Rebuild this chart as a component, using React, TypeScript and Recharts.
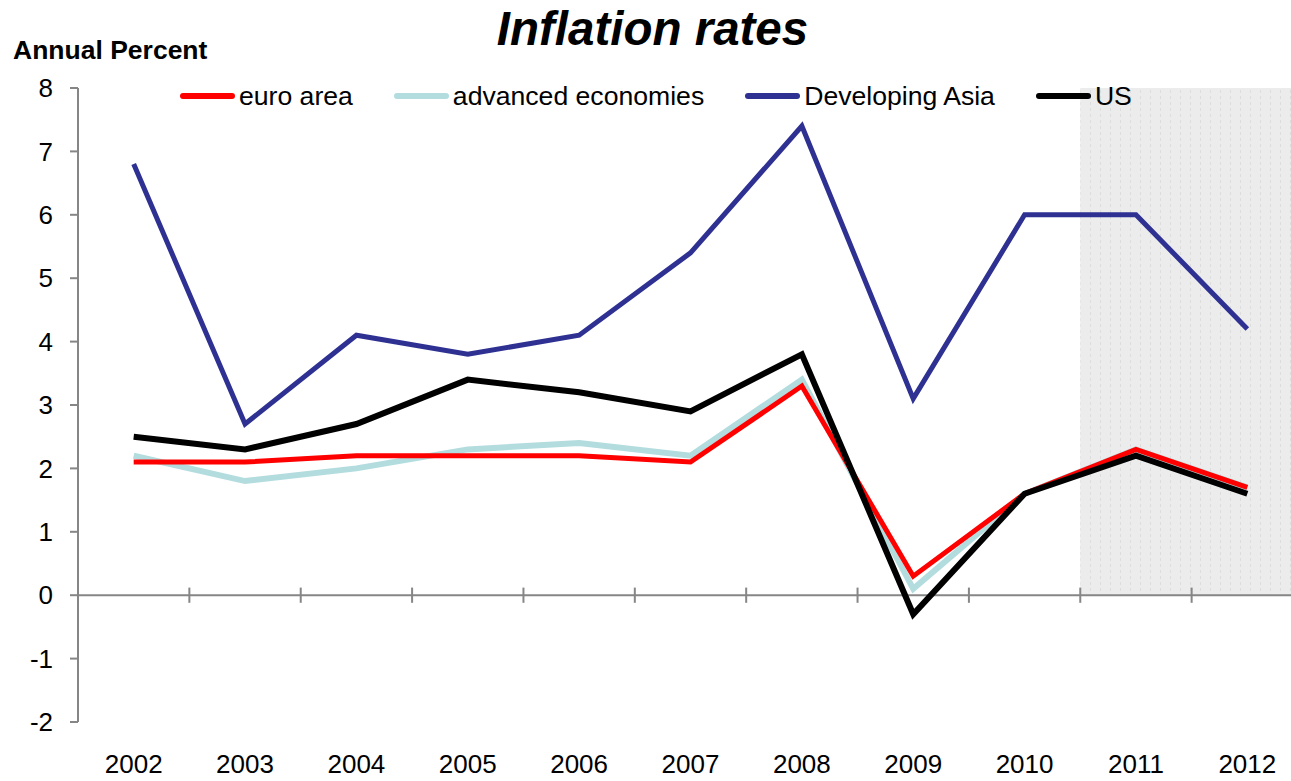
import { LineChart, Line, XAxis, YAxis, ReferenceArea, ReferenceLine } from "recharts";

const years = [2002, 2003, 2004, 2005, 2006, 2007, 2008, 2009, 2010, 2011, 2012];
const euroArea = [2.1, 2.1, 2.2, 2.2, 2.2, 2.1, 3.3, 0.3, 1.6, 2.3, 1.7];
const advancedEconomies = [2.2, 1.8, 2.0, 2.3, 2.4, 2.2, 3.4, 0.1, 1.6, 2.3, 1.7];
const developingAsia = [6.8, 2.7, 4.1, 3.8, 4.1, 5.4, 7.4, 3.1, 6.0, 6.0, 4.2];
const us = [2.5, 2.3, 2.7, 3.4, 3.2, 2.9, 3.8, -0.3, 1.6, 2.2, 1.6];
const yTicks = [-2, -1, 0, 1, 2, 3, 4, 5, 6, 7, 8];
// projection years are shaded
const forecastYears = [2011, 2012];

const FONT = "'Liberation Sans', Arial, sans-serif";
const AXIS = "#868686";

const data = years.map((year, i) => ({
  year,
  euro: euroArea[i],
  adv: advancedEconomies[i],
  asia: developingAsia[i],
  us: us[i],
}));

// category boundaries, where Excel puts its tick marks
const boundaries = years.map((y) => y + 0.5);

const legendItems = [
  { name: "euro area", color: "#FF0000" },
  { name: "advanced economies", color: "#B3DCDF" },
  { name: "Developing Asia", color: "#2E3192" },
  { name: "US", color: "#000000" },
];

function ChartLegend() {
  return (
    <div
      style={{
        position: "absolute",
        left: 180,
        top: 81,
        display: "flex",
        gap: 41,
        fontFamily: FONT,
        fontSize: 26.6,
        lineHeight: "30px",
        color: "#000",
      }}
    >
      {legendItems.map((it) => (
        <div key={it.name} style={{ display: "flex", alignItems: "center" }}>
          <div
            style={{
              width: 55,
              height: 6,
              borderRadius: 3,
              background: it.color,
              marginRight: 4,
            }}
          />
          <span style={{ whiteSpace: "nowrap" }}>{it.name}</span>
        </div>
      ))}
    </div>
  );
}

export default function App() {
  return (
    <div
      style={{
        position: "absolute",
        left: 0,
        top: 0,
        width: 1291,
        height: 781,
        overflow: "hidden",
        background: "#fff",
      }}
    >
      <div
        style={{
          position: "absolute",
          left: 0,
          width: 1305,
          top: 6,
          textAlign: "center",
          fontFamily: FONT,
          fontSize: 47.5,
          fontWeight: "bold",
          fontStyle: "italic",
          lineHeight: "46px",
        }}
      >
        Inflation rates
      </div>
      <div
        style={{
          position: "absolute",
          left: 13,
          top: 37,
          fontFamily: FONT,
          fontSize: 26.5,
          fontWeight: "bold",
          lineHeight: "26px",
        }}
      >
        Annual Percent
      </div>
      <div style={{ position: "absolute", left: 0, top: 0 }}>
        <LineChart
          width={1310}
          height={781}
          data={data}
          margin={{ top: 88, right: 7, left: 0, bottom: 0 }}
        >
          <defs>
            <pattern id="forecast" width="10" height="6" patternUnits="userSpaceOnUse">
              <rect width="10" height="6" fill="#ECECEC" />
              <rect x="0" y="0" width="1" height="3" fill="#DDDDDD" />
            </pattern>
          </defs>
          <XAxis
            type="number"
            dataKey="year"
            domain={[2001.5, 2012.5]}
            ticks={years}
            axisLine={false}
            tickLine={false}
            tickSize={0}
            tickMargin={33}
            height={59}
            tick={{ fill: "#000", fontSize: 26, fontFamily: FONT }}
            interval={0}
          />
          <YAxis
            domain={[-2, 8]}
            ticks={yTicks}
            width={78}
            interval={0}
            axisLine={{ stroke: AXIS, strokeWidth: 2 }}
            tickLine={{ stroke: AXIS, strokeWidth: 2 }}
            tickSize={8}
            tickMargin={17}
            tick={{ fill: "#000", fontSize: 26, fontFamily: FONT }}
          />
          <ReferenceArea
            x1={forecastYears[0] - 0.5}
            x2={forecastYears[forecastYears.length - 1] + 0.5}
            y1={0}
            y2={8}
            fill="url(#forecast)"
            fillOpacity={1}
            stroke="none"
          />
          <ReferenceLine y={0} stroke={AXIS} strokeWidth={2} />
          {boundaries.map((b) => (
            <ReferenceLine
              key={b}
              segment={[
                { x: b, y: 0.12 },
                { x: b, y: -0.12 },
              ]}
              stroke={AXIS}
              strokeWidth={2}
            />
          ))}
          <Line
            type="linear"
            dataKey="adv"
            stroke="#B3DCDF"
            strokeWidth={6}
            dot={false}
            isAnimationActive={false}
          />
          <Line
            type="linear"
            dataKey="euro"
            stroke="#FF0000"
            strokeWidth={5}
            dot={false}
            isAnimationActive={false}
          />
          <Line
            type="linear"
            dataKey="asia"
            stroke="#2E3192"
            strokeWidth={5}
            dot={false}
            isAnimationActive={false}
          />
          <Line
            type="linear"
            dataKey="us"
            stroke="#000000"
            strokeWidth={6}
            dot={false}
            isAnimationActive={false}
          />
        </LineChart>
      </div>
      <ChartLegend />
    </div>
  );
}
